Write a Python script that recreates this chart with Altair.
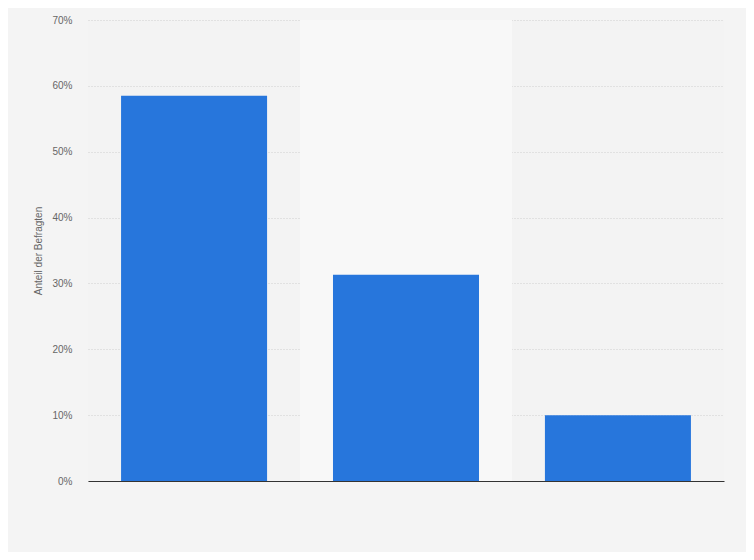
import altair as alt
import pandas as pd

categories = ["Kategorie 1", "Kategorie 2", "Kategorie 3"]
values = [58.5, 31.3, 10.0]
band_category = ["Kategorie 2"]
band_top = [70]

df = pd.DataFrame({"cat": categories, "val": values})
band_df = pd.DataFrame({"cat": band_category, "top": band_top, "bottom": [0]})

x_scale = alt.Scale(domain=categories, paddingInner=0.311, paddingOuter=0.156)
y_scale = alt.Scale(domain=[0, 70], nice=False)

x_axis = alt.Axis(title=None, labels=False, ticks=False, domain=True,
                  domainColor="#333333", domainWidth=1.2, grid=False)
y_axis = alt.Axis(title="Anteil der Befragten", values=[0, 10, 20, 30, 40, 50, 60, 70],
                  labelExpr="datum.value + '%'", ticks=False, domain=False,
                  labelPadding=16, labelColor="#666666", labelFontSize=10,
                  labelFont="Liberation Sans", titleFont="Liberation Sans",
                  titleFontSize=10, titleFontWeight="normal", titleColor="#666666",
                  titlePadding=8, grid=True, gridColor="#cfcfcf", gridDash=[1, 2],
                  gridWidth=1)

band = alt.Chart(band_df).mark_bar(
    color="#f8f8f8", width=alt.RelativeBandSize(1.452)
).encode(
    x=alt.X("cat:N", scale=x_scale, axis=x_axis, sort=categories),
    y=alt.Y("top:Q", scale=y_scale, axis=y_axis),
    y2="bottom:Q",
)

bars = alt.Chart(df).mark_bar(color="#2776dc").encode(
    x=alt.X("cat:N", scale=x_scale, axis=x_axis, sort=categories),
    y=alt.Y("val:Q", scale=y_scale, axis=y_axis),
)

chart = alt.layer(band, bars).properties(
    width=636, height=461,
    autosize=alt.AutoSizeParams(type="none"),
    padding={"left": 80, "top": 12, "right": 22, "bottom": 71},
    background="#f4f4f4",
).configure_view(stroke=None, fill="#f3f3f3")

chart.save("out.html", embed_options={"renderer": "svg", "actions": False})
